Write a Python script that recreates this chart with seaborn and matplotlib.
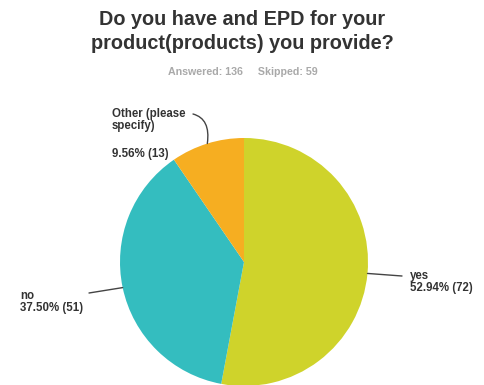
import numpy as np
import matplotlib
matplotlib.use("Agg")
import matplotlib.pyplot as plt
import seaborn as sns

# ---- data ----
categories = ["yes", "no", "Other (please\nspecify)"]
counts = [72, 51, 13]
percents = [52.94, 37.50, 9.56]
colors = ["#CFD32B", "#34BDBF", "#F6AE21"]
title = "Do you have and EPD for your\nproduct(products) you provide?"
subtitle = "Answered: 136     Skipped: 59"

sns.set_theme(style="white")
plt.rcParams['font.family'] = ['Liberation Sans', 'DejaVu Sans']

W, H = 485, 385
fig = plt.figure(figsize=(W / 100, H / 100), dpi=100)
fig.patch.set_facecolor("white")

def fx(x):
    return x / W
def fy(y):
    return 1 - y / H

# pie axes: centre (244, 262) px, radius 124 px
cx, cy, r = 244, 262, 124
ax = fig.add_axes([fx(cx - r), fy(cy + r), 2 * r / W, 2 * r / H])
wedges, _ = ax.pie(counts, colors=colors, startangle=90, counterclock=False,
                   radius=1, wedgeprops=dict(linewidth=0))
ax.set_xlim(-1, 1)
ax.set_ylim(-1, 1)
ax.set_aspect("auto")
ax.axis("off")

fig.text(0.5, fy(31.5), title, ha="center", va="center", fontsize=14.3,
         fontweight="bold", color="#333333", linespacing=1.32)
fig.text(0.5, fy(72), subtitle, ha="center", va="center", fontsize=7.7,
         fontweight="bold", color="#A9A9A9")

def edge(w):
    a = np.deg2rad((w.theta1 + w.theta2) / 2)
    return (np.cos(a), np.sin(a))

line_kw = dict(arrowstyle="-", color="#444444", lw=1, shrinkA=0, shrinkB=0)
txt_kw = dict(fontsize=8.3, color="#333333", linespacing=1.1, fontweight="bold")

# yes
ax.annotate("", xy=edge(wedges[0]), xytext=(402, H - 276),
            textcoords="figure pixels", arrowprops=line_kw)
fig.text(fx(410), fy(282), f"{categories[0]}\n{percents[0]:.2f}% ({counts[0]})",
         ha="left", va="center", **txt_kw)

# no
ax.annotate("", xy=edge(wedges[1]), xytext=(89, H - 293),
            textcoords="figure pixels", arrowprops=line_kw)
fig.text(fx(20), fy(302), f"{categories[1]}\n{percents[1]:.2f}% ({counts[1]})",
         ha="left", va="center", **txt_kw)

# other
kw3 = dict(line_kw)
kw3["connectionstyle"] = "angle3,angleA=-15,angleB=82"
ax.annotate("", xy=edge(wedges[2]), xytext=(193, H - 114),
            textcoords="figure pixels", arrowprops=kw3)
fig.text(fx(112), fy(120), categories[2], ha="left", va="center", **txt_kw)
fig.text(fx(112), fy(154), f"{percents[2]:.2f}% ({counts[2]})",
         ha="left", va="center", **txt_kw)

fig.savefig("out.png", dpi=100, facecolor="white")
